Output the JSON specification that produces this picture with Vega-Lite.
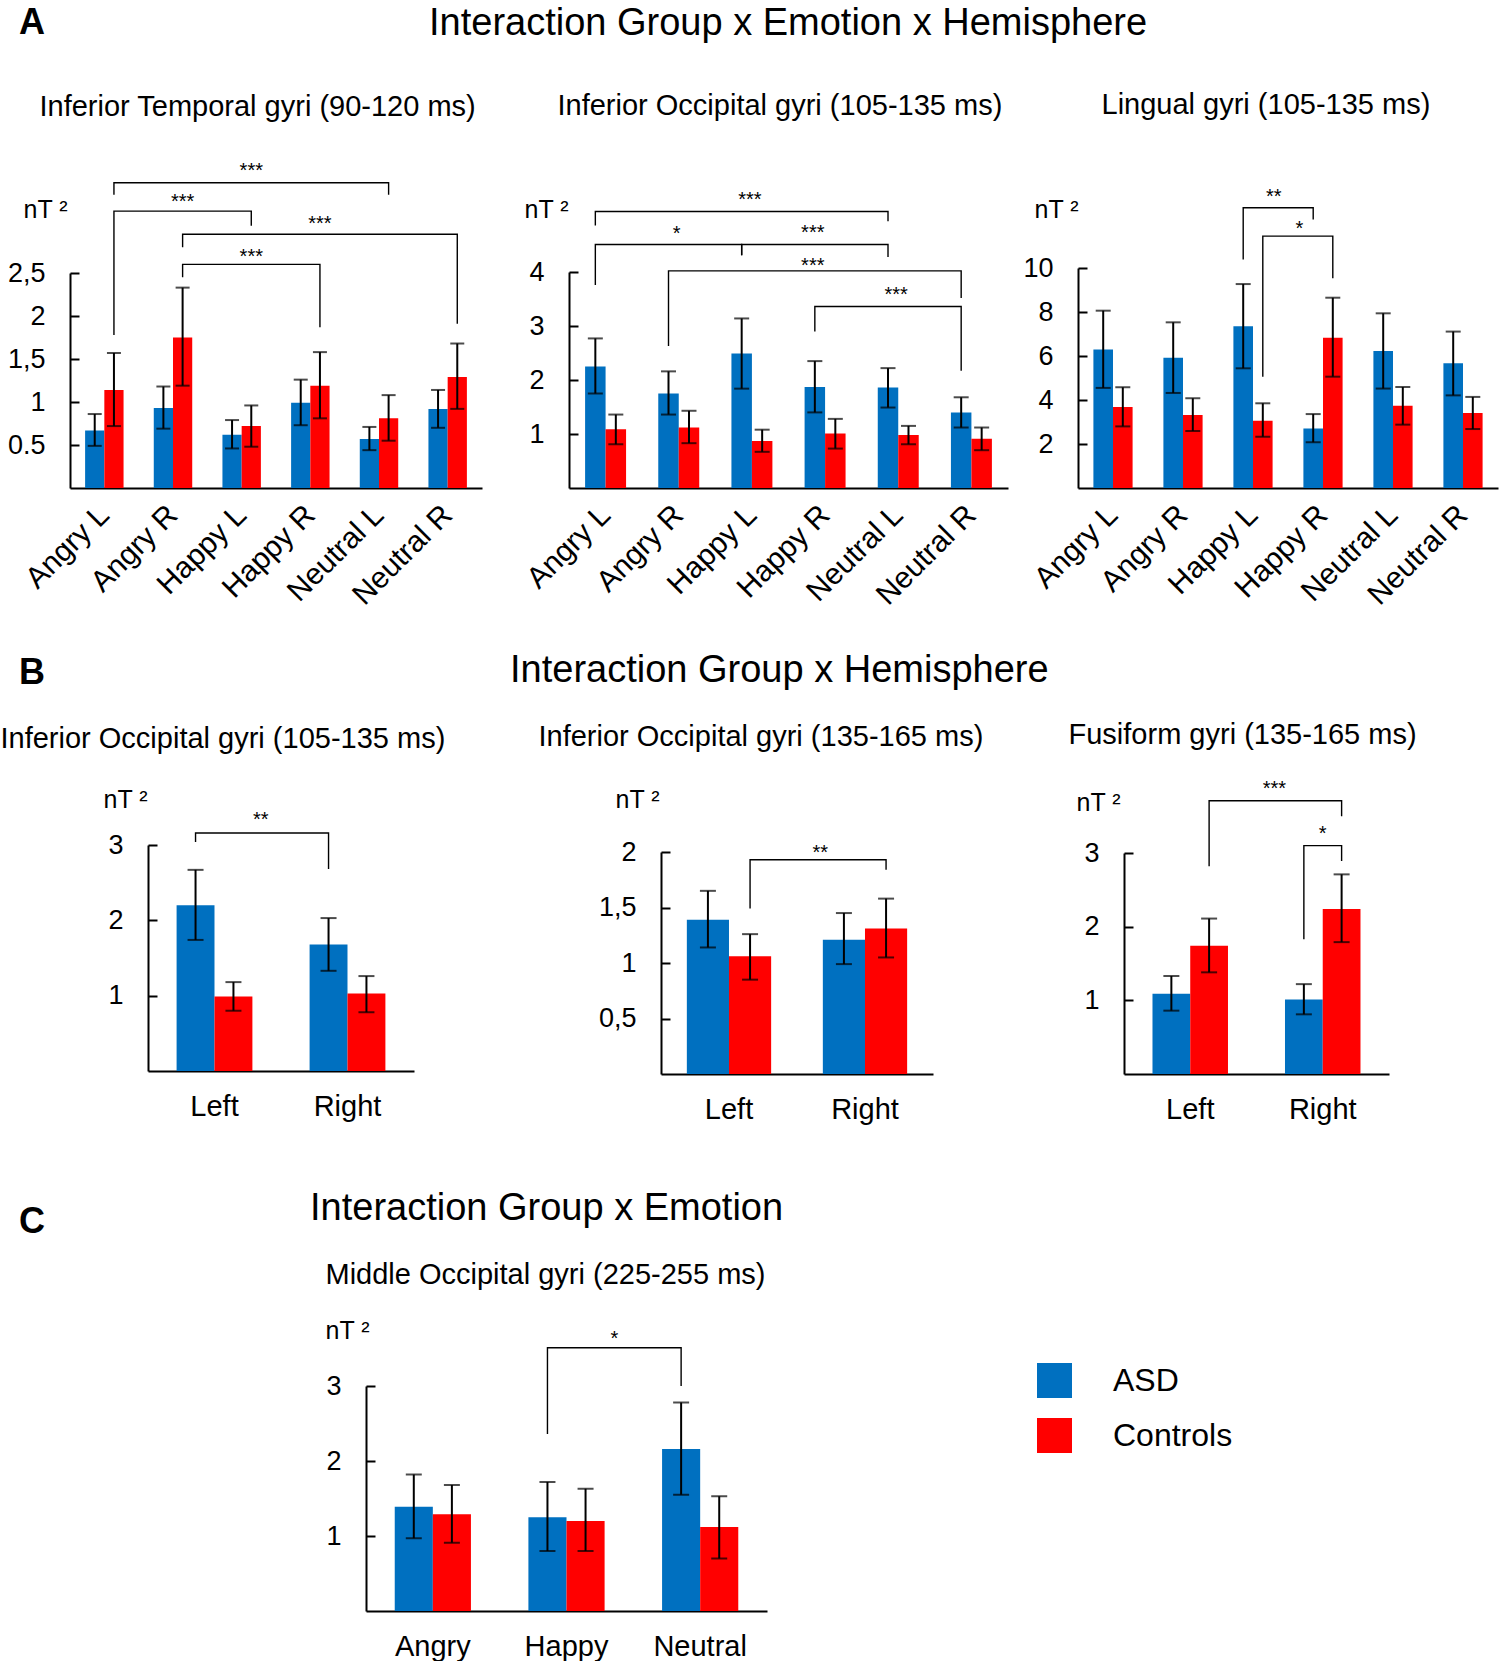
{
  "$schema": "https://vega.github.io/schema/vega-lite/v6.json",
  "padding": {"top": 5, "left": 0, "right": 0, "bottom": 0},
  "background": "white",
  "config": {
    "font": "Liberation Sans",
    "view": {"stroke": null},
    "axis": {"grid": false, "labelColor": "black", "titleColor": "black", "domainColor": "black", "tickColor": "black", "domainWidth": 2, "tickWidth": 2, "labelFontSize": 27, "titleFontSize": 25, "titleFontWeight": "normal", "labelFont": "Liberation Sans", "titleFont": "Liberation Sans"},
    "axisX": {"ticks": false, "titleFontSize": 29, "titleAlign": "left", "titleBaseline": "alphabetic", "titleAngle": 0},
    "axisY": {"tickSize": -9, "labelPadding": 34, "titleAngle": 0, "titleAlign": "left", "titleBaseline": "alphabetic"},
    "title": {"color": "black", "font": "Liberation Sans", "fontWeight": "normal"}
  },
  "datasets": {
    "a1": [
      {"g": "Angry L", "s": "ASD", "v": 0.67, "lo": 0.49, "hi": 0.86},
      {"g": "Angry L", "s": "Controls", "v": 1.14, "lo": 0.72, "hi": 1.57},
      {"g": "Angry R", "s": "ASD", "v": 0.93, "lo": 0.69, "hi": 1.18},
      {"g": "Angry R", "s": "Controls", "v": 1.75, "lo": 1.19, "hi": 2.33},
      {"g": "Happy L", "s": "ASD", "v": 0.62, "lo": 0.46, "hi": 0.79},
      {"g": "Happy L", "s": "Controls", "v": 0.72, "lo": 0.48, "hi": 0.96},
      {"g": "Happy R", "s": "ASD", "v": 0.99, "lo": 0.73, "hi": 1.26},
      {"g": "Happy R", "s": "Controls", "v": 1.19, "lo": 0.81, "hi": 1.58},
      {"g": "Neutral L", "s": "ASD", "v": 0.57, "lo": 0.44, "hi": 0.71},
      {"g": "Neutral L", "s": "Controls", "v": 0.81, "lo": 0.55, "hi": 1.08},
      {"g": "Neutral R", "s": "ASD", "v": 0.92, "lo": 0.70, "hi": 1.14},
      {"g": "Neutral R", "s": "Controls", "v": 1.29, "lo": 0.92, "hi": 1.68}
    ],
    "a1b": [
      {"b": 1, "o": 1, "g": "Angry L", "s": "Controls", "y": 3.41},
      {"b": 1, "o": 2, "g": "Angry L", "s": "Controls", "y": 3.55},
      {"b": 1, "o": 3, "g": "Neutral L", "s": "Controls", "y": 3.55},
      {"b": 1, "o": 4, "g": "Neutral L", "s": "Controls", "y": 3.41},
      {"b": 2, "o": 1, "g": "Angry L", "s": "Controls", "y": 1.78},
      {"b": 2, "o": 2, "g": "Angry L", "s": "Controls", "y": 3.22},
      {"b": 2, "o": 3, "g": "Happy L", "s": "Controls", "y": 3.22},
      {"b": 2, "o": 4, "g": "Happy L", "s": "Controls", "y": 3.05},
      {"b": 3, "o": 1, "g": "Angry R", "s": "Controls", "y": 2.80},
      {"b": 3, "o": 2, "g": "Angry R", "s": "Controls", "y": 2.95},
      {"b": 3, "o": 3, "g": "Neutral R", "s": "Controls", "y": 2.95},
      {"b": 3, "o": 4, "g": "Neutral R", "s": "Controls", "y": 1.91},
      {"b": 4, "o": 1, "g": "Angry R", "s": "Controls", "y": 2.45},
      {"b": 4, "o": 2, "g": "Angry R", "s": "Controls", "y": 2.60},
      {"b": 4, "o": 3, "g": "Happy R", "s": "Controls", "y": 2.60},
      {"b": 4, "o": 4, "g": "Happy R", "s": "Controls", "y": 1.87}
    ],
    "a1t": [
      {"g": "Happy L", "y": 3.75, "t": "***"},
      {"g": "Angry R", "y": 3.38, "t": "***"},
      {"g": "Happy R", "y": 3.13, "t": "***"},
      {"g": "Happy L", "y": 2.74, "t": "***"}
    ],
    "a2": [
      {"g": "Angry L", "s": "ASD", "v": 2.25, "lo": 1.75, "hi": 2.77},
      {"g": "Angry L", "s": "Controls", "v": 1.09, "lo": 0.81, "hi": 1.36},
      {"g": "Angry R", "s": "ASD", "v": 1.75, "lo": 1.36, "hi": 2.16},
      {"g": "Angry R", "s": "Controls", "v": 1.12, "lo": 0.83, "hi": 1.43},
      {"g": "Happy L", "s": "ASD", "v": 2.49, "lo": 1.84, "hi": 3.14},
      {"g": "Happy L", "s": "Controls", "v": 0.87, "lo": 0.67, "hi": 1.08},
      {"g": "Happy R", "s": "ASD", "v": 1.87, "lo": 1.40, "hi": 2.35},
      {"g": "Happy R", "s": "Controls", "v": 1.01, "lo": 0.73, "hi": 1.28},
      {"g": "Neutral L", "s": "ASD", "v": 1.86, "lo": 1.49, "hi": 2.22},
      {"g": "Neutral L", "s": "Controls", "v": 0.98, "lo": 0.81, "hi": 1.15},
      {"g": "Neutral R", "s": "ASD", "v": 1.40, "lo": 1.12, "hi": 1.68},
      {"g": "Neutral R", "s": "Controls", "v": 0.91, "lo": 0.70, "hi": 1.12}
    ],
    "a2b": [
      {"b": 1, "o": 1, "g": "Angry L", "s": "ASD", "y": 4.86},
      {"b": 1, "o": 2, "g": "Angry L", "s": "ASD", "y": 5.12},
      {"b": 1, "o": 3, "g": "Neutral L", "s": "ASD", "y": 5.12},
      {"b": 1, "o": 4, "g": "Neutral L", "s": "ASD", "y": 4.94},
      {"b": 2, "o": 1, "g": "Angry L", "s": "ASD", "y": 3.76},
      {"b": 2, "o": 2, "g": "Angry L", "s": "ASD", "y": 4.51},
      {"b": 2, "o": 3, "g": "Happy L", "s": "ASD", "y": 4.51},
      {"b": 2, "o": 4, "g": "Happy L", "s": "ASD", "y": 4.31},
      {"b": 3, "o": 1, "g": "Happy L", "s": "ASD", "y": 4.31},
      {"b": 3, "o": 2, "g": "Happy L", "s": "ASD", "y": 4.51},
      {"b": 3, "o": 3, "g": "Neutral L", "s": "ASD", "y": 4.51},
      {"b": 3, "o": 4, "g": "Neutral L", "s": "ASD", "y": 4.28},
      {"b": 4, "o": 1, "g": "Angry R", "s": "ASD", "y": 2.63},
      {"b": 4, "o": 2, "g": "Angry R", "s": "ASD", "y": 4.02},
      {"b": 4, "o": 3, "g": "Neutral R", "s": "ASD", "y": 4.02},
      {"b": 4, "o": 4, "g": "Neutral R", "s": "ASD", "y": 3.52},
      {"b": 5, "o": 1, "g": "Happy R", "s": "ASD", "y": 2.90},
      {"b": 5, "o": 2, "g": "Happy R", "s": "ASD", "y": 3.36},
      {"b": 5, "o": 3, "g": "Neutral R", "s": "ASD", "y": 3.36},
      {"b": 5, "o": 4, "g": "Neutral R", "s": "ASD", "y": 2.17}
    ],
    "a2t1": [
      {"g": "Happy L", "y": 5.43, "t": "***"},
      {"g": "Angry R", "y": 4.80, "t": "*"},
      {"g": "Neutral L", "y": 3.67, "t": "***"}
    ],
    "a2t2": [
      {"g": "Happy R", "y": 4.81, "t": "***"},
      {"g": "Happy R", "y": 4.20, "t": "***"}
    ],
    "a3": [
      {"g": "Angry L", "s": "ASD", "v": 6.30, "lo": 4.55, "hi": 8.06},
      {"g": "Angry L", "s": "Controls", "v": 3.68, "lo": 2.80, "hi": 4.58},
      {"g": "Angry R", "s": "ASD", "v": 5.92, "lo": 4.32, "hi": 7.53},
      {"g": "Angry R", "s": "Controls", "v": 3.32, "lo": 2.59, "hi": 4.08},
      {"g": "Happy L", "s": "ASD", "v": 7.35, "lo": 5.44, "hi": 9.27},
      {"g": "Happy L", "s": "Controls", "v": 3.06, "lo": 2.33, "hi": 3.85},
      {"g": "Happy R", "s": "ASD", "v": 2.71, "lo": 2.08, "hi": 3.36},
      {"g": "Happy R", "s": "Controls", "v": 6.83, "lo": 5.06, "hi": 8.65},
      {"g": "Neutral L", "s": "ASD", "v": 6.23, "lo": 4.52, "hi": 7.94},
      {"g": "Neutral L", "s": "Controls", "v": 3.74, "lo": 2.88, "hi": 4.59},
      {"g": "Neutral R", "s": "ASD", "v": 5.67, "lo": 4.21, "hi": 7.11},
      {"g": "Neutral R", "s": "Controls", "v": 3.41, "lo": 2.68, "hi": 4.14}
    ],
    "a3b": [
      {"b": 1, "o": 1, "g": "Happy L", "s": "ASD", "y": 10.39},
      {"b": 1, "o": 2, "g": "Happy L", "s": "ASD", "y": 12.74},
      {"b": 1, "o": 3, "g": "Happy R", "s": "ASD", "y": 12.74},
      {"b": 1, "o": 4, "g": "Happy R", "s": "ASD", "y": 12.21},
      {"b": 2, "o": 1, "g": "Happy L", "s": "Controls", "y": 5.06},
      {"b": 2, "o": 2, "g": "Happy L", "s": "Controls", "y": 11.45},
      {"b": 2, "o": 3, "g": "Happy R", "s": "Controls", "y": 11.45},
      {"b": 2, "o": 4, "g": "Happy R", "s": "Controls", "y": 9.53}
    ],
    "a3t1": [{"g": "Happy L", "y": 13.47, "t": "**"}],
    "a3t2": [{"g": "Happy R", "y": 12.0, "t": "*"}],
    "b1": [
      {"g": "Left", "s": "ASD", "v": 2.20, "lo": 1.74, "hi": 2.67},
      {"g": "Left", "s": "Controls", "v": 0.99, "lo": 0.80, "hi": 1.18},
      {"g": "Right", "s": "ASD", "v": 1.68, "lo": 1.33, "hi": 2.03},
      {"g": "Right", "s": "Controls", "v": 1.03, "lo": 0.78, "hi": 1.26}
    ],
    "b1b": [
      {"b": 1, "o": 1, "g": "Left", "s": "ASD", "y": 3.04},
      {"b": 1, "o": 2, "g": "Left", "s": "ASD", "y": 3.16},
      {"b": 1, "o": 3, "g": "Right", "s": "ASD", "y": 3.16},
      {"b": 1, "o": 4, "g": "Right", "s": "ASD", "y": 2.68}
    ],
    "b1t": [{"g": "Left", "y": 3.40, "t": "**"}],
    "b2": [
      {"g": "Left", "s": "ASD", "v": 1.39, "lo": 1.14, "hi": 1.65},
      {"g": "Left", "s": "Controls", "v": 1.06, "lo": 0.85, "hi": 1.26},
      {"g": "Right", "s": "ASD", "v": 1.21, "lo": 0.99, "hi": 1.45},
      {"g": "Right", "s": "Controls", "v": 1.31, "lo": 1.05, "hi": 1.58}
    ],
    "b2b": [
      {"b": 1, "o": 1, "g": "Left", "s": "Controls", "y": 1.49},
      {"b": 1, "o": 2, "g": "Left", "s": "Controls", "y": 1.93},
      {"b": 1, "o": 3, "g": "Right", "s": "Controls", "y": 1.93},
      {"b": 1, "o": 4, "g": "Right", "s": "Controls", "y": 1.84}
    ],
    "b2t": [{"g": "Right", "y": 2.04, "t": "**"}],
    "b3": [
      {"g": "Left", "s": "ASD", "v": 1.09, "lo": 0.86, "hi": 1.33},
      {"g": "Left", "s": "Controls", "v": 1.74, "lo": 1.38, "hi": 2.11},
      {"g": "Right", "s": "ASD", "v": 1.01, "lo": 0.81, "hi": 1.22},
      {"g": "Right", "s": "Controls", "v": 2.24, "lo": 1.79, "hi": 2.71}
    ],
    "b3b": [
      {"b": 1, "o": 1, "g": "Left", "s": "Controls", "y": 2.82},
      {"b": 1, "o": 2, "g": "Left", "s": "Controls", "y": 3.71},
      {"b": 1, "o": 3, "g": "Right", "s": "Controls", "y": 3.71},
      {"b": 1, "o": 4, "g": "Right", "s": "Controls", "y": 3.50},
      {"b": 2, "o": 1, "g": "Right", "s": "ASD", "y": 1.83},
      {"b": 2, "o": 2, "g": "Right", "s": "ASD", "y": 3.10},
      {"b": 2, "o": 3, "g": "Right", "s": "Controls", "y": 3.10},
      {"b": 2, "o": 4, "g": "Right", "s": "Controls", "y": 2.89}
    ],
    "b3t1": [{"g": "Right", "y": 3.94, "t": "***"}],
    "b3t2": [{"g": "Right", "y": 3.33, "t": "*"}],
    "c": [
      {"g": "Angry", "s": "ASD", "v": 1.39, "lo": 0.97, "hi": 1.82},
      {"g": "Angry", "s": "Controls", "v": 1.29, "lo": 0.91, "hi": 1.68},
      {"g": "Happy", "s": "ASD", "v": 1.25, "lo": 0.80, "hi": 1.72},
      {"g": "Happy", "s": "Controls", "v": 1.20, "lo": 0.80, "hi": 1.63},
      {"g": "Neutral", "s": "ASD", "v": 2.16, "lo": 1.55, "hi": 2.78},
      {"g": "Neutral", "s": "Controls", "v": 1.12, "lo": 0.70, "hi": 1.53}
    ],
    "cb": [
      {"b": 1, "o": 1, "g": "Happy", "s": "ASD", "y": 2.36},
      {"b": 1, "o": 2, "g": "Happy", "s": "ASD", "y": 3.51},
      {"b": 1, "o": 3, "g": "Neutral", "s": "ASD", "y": 3.51},
      {"b": 1, "o": 4, "g": "Neutral", "s": "ASD", "y": 3.0}
    ],
    "ct": [{"g": "Happy", "y": 3.70, "t": "*"}]
  },
  "resolve": {"scale": {"xOffset": "independent"}},
  "vconcat": [
    {
      "title": {"text": "Interaction Group x Emotion x Hemisphere", "anchor": "start", "frame": "group", "dx": 429, "offset": -38, "fontSize": 38},
      "spacing": 0,
      "bounds": "flush",
      "resolve": {"scale": {"xOffset": "independent"}},
      "hconcat": [
        {
          "width": 520, "height": 220,
          "title": {"text": "A", "anchor": "start", "frame": "group", "dx": 19, "offset": 50, "fontSize": 36, "fontWeight": "bold"},
          "layer": [
            {"data": {"name": "a1"}, "mark": {"type": "bar"},
             "encoding": {
               "x": {"field": "g", "type": "nominal", "scale": {"domain": ["Angry L", "Angry R", "Happy L", "Happy R", "Neutral L", "Neutral R"], "range": [70, 482], "paddingInner": 0.44, "paddingOuter": 0.22},
                     "axis": {"title": "Inferior Temporal gyri (90-120 ms)", "titleX": 39, "titleY": -373, "labelAngle": -45, "labelAlign": "right", "labelBaseline": "middle", "labelPadding": 22, "labelFontSize": 30}},
               "xOffset": {"field": "s", "type": "nominal", "scale": {"domain": ["ASD", "Controls"], "range": [0, 38.45], "paddingInner": 0, "paddingOuter": 0}},
               "y": {"field": "v", "type": "quantitative", "scale": {"domain": [0, 2.5], "range": [220, 5], "nice": false, "zero": true},
                     "axis": {"values": [0.5, 1, 1.5, 2, 2.5], "format": "~r", "labelExpr": "datum.value == 0.5 ? '0.5' : replace(datum.label, '.', ',')", "title": "nT ²", "titleX": -47, "titleY": -51, "offset": -70}},
               "color": {"field": "s", "type": "nominal", "scale": {"domain": ["ASD", "Controls"], "range": ["#0070C0", "#FF0000"]},
                         "legend": {"orient": "none", "legendX": 1037, "legendY": 1095, "title": null, "symbolType": "square", "symbolSize": 1225, "symbolStrokeWidth": 0, "symbolOpacity": 1, "labelFontSize": 32, "labelOffset": 41, "rowPadding": 20, "padding": 0, "labelColor": "black"}}
             }},
            {"data": {"name": "a1"}, "mark": {"type": "rule", "color": "black", "strokeWidth": 2},
             "encoding": {"x": {"field": "g", "type": "nominal"}, "xOffset": {"field": "s", "type": "nominal"}, "y": {"field": "lo", "type": "quantitative"}, "y2": {"field": "hi"}}},
            {"data": {"name": "a1"}, "mark": {"type": "tick", "color": "black", "thickness": 2, "size": 14},
             "encoding": {"x": {"field": "g", "type": "nominal"}, "xOffset": {"field": "s", "type": "nominal"}, "y": {"field": "lo", "type": "quantitative"}}},
            {"data": {"name": "a1"}, "mark": {"type": "tick", "color": "black", "thickness": 2, "size": 14},
             "encoding": {"x": {"field": "g", "type": "nominal"}, "xOffset": {"field": "s", "type": "nominal"}, "y": {"field": "hi", "type": "quantitative"}}},
            {"data": {"name": "a1b"}, "mark": {"type": "line", "color": "black", "strokeWidth": 1.4},
             "encoding": {"x": {"field": "g", "type": "nominal"}, "xOffset": {"field": "s", "type": "nominal"}, "y": {"field": "y", "type": "quantitative"}, "detail": {"field": "b", "type": "nominal"}, "order": {"field": "o", "type": "quantitative"}}},
            {"data": {"name": "a1t"}, "mark": {"type": "text", "fontSize": 20, "baseline": "middle", "dy": 5, "color": "black"},
             "encoding": {"x": {"field": "g", "type": "nominal", "bandPosition": 0.75}, "y": {"field": "y", "type": "quantitative"}, "text": {"field": "t", "type": "nominal"}}}
          ]
        },
        {
          "width": 510, "height": 220,
          "layer": [
            {"data": {"name": "a2"}, "mark": {"type": "bar"},
             "encoding": {
               "x": {"field": "g", "type": "nominal", "scale": {"domain": ["Angry L", "Angry R", "Happy L", "Happy R", "Neutral L", "Neutral R"], "range": [49, 488], "paddingInner": 0.44, "paddingOuter": 0.22},
                     "axis": {"title": "Inferior Occipital gyri (105-135 ms)", "titleX": 37, "titleY": -374, "labelAngle": -45, "labelAlign": "right", "labelBaseline": "middle", "labelPadding": 22, "labelFontSize": 30}},
               "xOffset": {"field": "s", "type": "nominal", "scale": {"domain": ["ASD", "Controls"], "range": [0, 40.97], "paddingInner": 0, "paddingOuter": 0}},
               "y": {"field": "v", "type": "quantitative", "scale": {"domain": [0, 4], "range": [220, 4], "nice": false, "zero": true},
                     "axis": {"values": [1, 2, 3, 4], "format": "~r", "title": "nT ²", "titleX": -45, "titleY": -51, "offset": -49}},
               "color": {"field": "s", "type": "nominal", "scale": {"domain": ["ASD", "Controls"], "range": ["#0070C0", "#FF0000"]},
                         "legend": {"orient": "none", "legendX": 1037, "legendY": 1095, "title": null, "symbolType": "square", "symbolSize": 1225, "symbolStrokeWidth": 0, "symbolOpacity": 1, "labelFontSize": 32, "labelOffset": 41, "rowPadding": 20, "padding": 0, "labelColor": "black"}}
             }},
            {"data": {"name": "a2"}, "mark": {"type": "rule", "color": "black", "strokeWidth": 2},
             "encoding": {"x": {"field": "g", "type": "nominal"}, "xOffset": {"field": "s", "type": "nominal"}, "y": {"field": "lo", "type": "quantitative"}, "y2": {"field": "hi"}}},
            {"data": {"name": "a2"}, "mark": {"type": "tick", "color": "black", "thickness": 2, "size": 15},
             "encoding": {"x": {"field": "g", "type": "nominal"}, "xOffset": {"field": "s", "type": "nominal"}, "y": {"field": "lo", "type": "quantitative"}}},
            {"data": {"name": "a2"}, "mark": {"type": "tick", "color": "black", "thickness": 2, "size": 15},
             "encoding": {"x": {"field": "g", "type": "nominal"}, "xOffset": {"field": "s", "type": "nominal"}, "y": {"field": "hi", "type": "quantitative"}}},
            {"data": {"name": "a2b"}, "mark": {"type": "line", "color": "black", "strokeWidth": 1.4},
             "encoding": {"x": {"field": "g", "type": "nominal"}, "xOffset": {"field": "s", "type": "nominal"}, "y": {"field": "y", "type": "quantitative"}, "detail": {"field": "b", "type": "nominal"}, "order": {"field": "o", "type": "quantitative"}}},
            {"data": {"name": "a2t1"}, "mark": {"type": "text", "fontSize": 20, "baseline": "middle", "dy": 5, "color": "black"},
             "encoding": {"x": {"field": "g", "type": "nominal", "bandPosition": 0.45}, "y": {"field": "y", "type": "quantitative"}, "text": {"field": "t", "type": "nominal"}}},
            {"data": {"name": "a2t2"}, "mark": {"type": "text", "fontSize": 20, "baseline": "middle", "dy": 5, "color": "black"},
             "encoding": {"x": {"field": "g", "type": "nominal", "bandPosition": 0.2}, "y": {"field": "y", "type": "quantitative"}, "text": {"field": "t", "type": "nominal"}}}
          ]
        },
        {
          "width": 470, "height": 220,
          "layer": [
            {"data": {"name": "a3"}, "mark": {"type": "bar"},
             "encoding": {
               "x": {"field": "g", "type": "nominal", "scale": {"domain": ["Angry L", "Angry R", "Happy L", "Happy R", "Neutral L", "Neutral R"], "range": [48, 468], "paddingInner": 0.44, "paddingOuter": 0.22},
                     "axis": {"title": "Lingual gyri (105-135 ms)", "titleX": 71, "titleY": -375, "labelAngle": -45, "labelAlign": "right", "labelBaseline": "middle", "labelPadding": 22, "labelFontSize": 30}},
               "xOffset": {"field": "s", "type": "nominal", "scale": {"domain": ["ASD", "Controls"], "range": [0, 39.2], "paddingInner": 0, "paddingOuter": 0}},
               "y": {"field": "v", "type": "quantitative", "scale": {"domain": [0, 10], "range": [220, 0], "nice": false, "zero": true},
                     "axis": {"values": [2, 4, 6, 8, 10], "format": "~r", "title": "nT ²", "titleX": -44, "titleY": -51, "offset": -48}},
               "color": {"field": "s", "type": "nominal", "scale": {"domain": ["ASD", "Controls"], "range": ["#0070C0", "#FF0000"]},
                         "legend": {"orient": "none", "legendX": 1037, "legendY": 1095, "title": null, "symbolType": "square", "symbolSize": 1225, "symbolStrokeWidth": 0, "symbolOpacity": 1, "labelFontSize": 32, "labelOffset": 41, "rowPadding": 20, "padding": 0, "labelColor": "black"}}
             }},
            {"data": {"name": "a3"}, "mark": {"type": "rule", "color": "black", "strokeWidth": 2},
             "encoding": {"x": {"field": "g", "type": "nominal"}, "xOffset": {"field": "s", "type": "nominal"}, "y": {"field": "lo", "type": "quantitative"}, "y2": {"field": "hi"}}},
            {"data": {"name": "a3"}, "mark": {"type": "tick", "color": "black", "thickness": 2, "size": 15},
             "encoding": {"x": {"field": "g", "type": "nominal"}, "xOffset": {"field": "s", "type": "nominal"}, "y": {"field": "lo", "type": "quantitative"}}},
            {"data": {"name": "a3"}, "mark": {"type": "tick", "color": "black", "thickness": 2, "size": 15},
             "encoding": {"x": {"field": "g", "type": "nominal"}, "xOffset": {"field": "s", "type": "nominal"}, "y": {"field": "hi", "type": "quantitative"}}},
            {"data": {"name": "a3b"}, "mark": {"type": "line", "color": "black", "strokeWidth": 1.4},
             "encoding": {"x": {"field": "g", "type": "nominal"}, "xOffset": {"field": "s", "type": "nominal"}, "y": {"field": "y", "type": "quantitative"}, "detail": {"field": "b", "type": "nominal"}, "order": {"field": "o", "type": "quantitative"}}},
            {"data": {"name": "a3t1"}, "mark": {"type": "text", "fontSize": 20, "baseline": "middle", "dy": 5, "color": "black"},
             "encoding": {"x": {"field": "g", "type": "nominal", "bandPosition": 1.03}, "y": {"field": "y", "type": "quantitative"}, "text": {"field": "t", "type": "nominal"}}},
            {"data": {"name": "a3t2"}, "mark": {"type": "text", "fontSize": 20, "baseline": "middle", "dy": 5, "color": "black"},
             "encoding": {"x": {"field": "g", "type": "nominal", "bandPosition": -0.1}, "y": {"field": "y", "type": "quantitative"}, "text": {"field": "t", "type": "nominal"}}}
          ]
        }
      ]
    },
    {
      "title": {"text": "Interaction Group x Hemisphere", "anchor": "start", "frame": "group", "dx": 510, "offset": -35, "fontSize": 38},
      "spacing": 0,
      "bounds": "flush",
      "resolve": {"scale": {"xOffset": "independent"}},
      "hconcat": [
        {
          "width": 600, "height": 244,
          "title": {"text": "B", "anchor": "start", "frame": "group", "dx": 19, "offset": 32, "fontSize": 36, "fontWeight": "bold"},
          "layer": [
            {"data": {"name": "b1"}, "mark": {"type": "bar"},
             "encoding": {
               "x": {"field": "g", "type": "nominal", "scale": {"domain": ["Left", "Right"], "range": [148, 414], "paddingInner": 0.43, "paddingOuter": 0.215},
                     "axis": {"title": "Inferior Occipital gyri (105-135 ms)", "titleX": 0, "titleY": -324, "labelAngle": 0, "labelAlign": "center", "labelBaseline": "top", "labelPadding": 21, "labelFontSize": 29}},
               "xOffset": {"field": "s", "type": "nominal", "scale": {"domain": ["ASD", "Controls"], "range": [0, 75.8], "paddingInner": 0, "paddingOuter": 0}},
               "y": {"field": "v", "type": "quantitative", "scale": {"domain": [0, 3], "range": [244, 18], "nice": false, "zero": true},
                     "axis": {"values": [1, 2, 3], "format": "~r", "title": "nT ²", "titleX": -45, "titleY": -20, "offset": -148}},
               "color": {"field": "s", "type": "nominal", "scale": {"domain": ["ASD", "Controls"], "range": ["#0070C0", "#FF0000"]},
                         "legend": {"orient": "none", "legendX": 1037, "legendY": 1095, "title": null, "symbolType": "square", "symbolSize": 1225, "symbolStrokeWidth": 0, "symbolOpacity": 1, "labelFontSize": 32, "labelOffset": 41, "rowPadding": 20, "padding": 0, "labelColor": "black"}}
             }},
            {"data": {"name": "b1"}, "mark": {"type": "rule", "color": "black", "strokeWidth": 2},
             "encoding": {"x": {"field": "g", "type": "nominal"}, "xOffset": {"field": "s", "type": "nominal"}, "y": {"field": "lo", "type": "quantitative"}, "y2": {"field": "hi"}}},
            {"data": {"name": "b1"}, "mark": {"type": "tick", "color": "black", "thickness": 2, "size": 16},
             "encoding": {"x": {"field": "g", "type": "nominal"}, "xOffset": {"field": "s", "type": "nominal"}, "y": {"field": "lo", "type": "quantitative"}}},
            {"data": {"name": "b1"}, "mark": {"type": "tick", "color": "black", "thickness": 2, "size": 16},
             "encoding": {"x": {"field": "g", "type": "nominal"}, "xOffset": {"field": "s", "type": "nominal"}, "y": {"field": "hi", "type": "quantitative"}}},
            {"data": {"name": "b1b"}, "mark": {"type": "line", "color": "black", "strokeWidth": 1.4},
             "encoding": {"x": {"field": "g", "type": "nominal"}, "xOffset": {"field": "s", "type": "nominal"}, "y": {"field": "y", "type": "quantitative"}, "detail": {"field": "b", "type": "nominal"}, "order": {"field": "o", "type": "quantitative"}}},
            {"data": {"name": "b1t"}, "mark": {"type": "text", "fontSize": 20, "baseline": "middle", "dy": 5, "color": "black"},
             "encoding": {"x": {"field": "g", "type": "nominal", "bandPosition": 1.11}, "y": {"field": "y", "type": "quantitative"}, "text": {"field": "t", "type": "nominal"}}}
          ]
        },
        {
          "width": 470, "height": 247,
          "layer": [
            {"data": {"name": "b2"}, "mark": {"type": "bar"},
             "encoding": {
               "x": {"field": "g", "type": "nominal", "scale": {"domain": ["Left", "Right"], "range": [61, 333], "paddingInner": 0.38, "paddingOuter": 0.19},
                     "axis": {"title": "Inferior Occipital gyri (135-165 ms)", "titleX": -62, "titleY": -329, "labelAngle": 0, "labelAlign": "center", "labelBaseline": "top", "labelPadding": 21, "labelFontSize": 29}},
               "xOffset": {"field": "s", "type": "nominal", "scale": {"domain": ["ASD", "Controls"], "range": [0, 84.3], "paddingInner": 0, "paddingOuter": 0}},
               "y": {"field": "v", "type": "quantitative", "scale": {"domain": [0, 2], "range": [247, 25], "nice": false, "zero": true},
                     "axis": {"values": [0.5, 1, 1.5, 2], "format": "~r", "labelExpr": "replace(datum.label, '.', ',')", "title": "nT ²", "titleX": -46, "titleY": -20, "offset": -61}},
               "color": {"field": "s", "type": "nominal", "scale": {"domain": ["ASD", "Controls"], "range": ["#0070C0", "#FF0000"]},
                         "legend": {"orient": "none", "legendX": 1037, "legendY": 1095, "title": null, "symbolType": "square", "symbolSize": 1225, "symbolStrokeWidth": 0, "symbolOpacity": 1, "labelFontSize": 32, "labelOffset": 41, "rowPadding": 20, "padding": 0, "labelColor": "black"}}
             }},
            {"data": {"name": "b2"}, "mark": {"type": "rule", "color": "black", "strokeWidth": 2},
             "encoding": {"x": {"field": "g", "type": "nominal"}, "xOffset": {"field": "s", "type": "nominal"}, "y": {"field": "lo", "type": "quantitative"}, "y2": {"field": "hi"}}},
            {"data": {"name": "b2"}, "mark": {"type": "tick", "color": "black", "thickness": 2, "size": 16},
             "encoding": {"x": {"field": "g", "type": "nominal"}, "xOffset": {"field": "s", "type": "nominal"}, "y": {"field": "lo", "type": "quantitative"}}},
            {"data": {"name": "b2"}, "mark": {"type": "tick", "color": "black", "thickness": 2, "size": 16},
             "encoding": {"x": {"field": "g", "type": "nominal"}, "xOffset": {"field": "s", "type": "nominal"}, "y": {"field": "hi", "type": "quantitative"}}},
            {"data": {"name": "b2b"}, "mark": {"type": "line", "color": "black", "strokeWidth": 1.4},
             "encoding": {"x": {"field": "g", "type": "nominal"}, "xOffset": {"field": "s", "type": "nominal"}, "y": {"field": "y", "type": "quantitative"}, "detail": {"field": "b", "type": "nominal"}, "order": {"field": "o", "type": "quantitative"}}},
            {"data": {"name": "b2t"}, "mark": {"type": "text", "fontSize": 20, "baseline": "middle", "dy": 5, "color": "black"},
             "encoding": {"x": {"field": "g", "type": "nominal", "bandPosition": -0.03}, "y": {"field": "y", "type": "quantitative"}, "text": {"field": "t", "type": "nominal"}}}
          ]
        },
        {
          "width": 430, "height": 247,
          "layer": [
            {"data": {"name": "b3"}, "mark": {"type": "bar"},
             "encoding": {
               "x": {"field": "g", "type": "nominal", "scale": {"domain": ["Left", "Right"], "range": [54, 319], "paddingInner": 0.43, "paddingOuter": 0.215},
                     "axis": {"title": "Fusiform gyri (135-165 ms)", "titleX": -2, "titleY": -331, "labelAngle": 0, "labelAlign": "center", "labelBaseline": "top", "labelPadding": 21, "labelFontSize": 29}},
               "xOffset": {"field": "s", "type": "nominal", "scale": {"domain": ["ASD", "Controls"], "range": [0, 75.5], "paddingInner": 0, "paddingOuter": 0}},
               "y": {"field": "v", "type": "quantitative", "scale": {"domain": [0, 3], "range": [247, 26], "nice": false, "zero": true},
                     "axis": {"values": [1, 2, 3], "format": "~r", "title": "nT ²", "titleX": -48, "titleY": -17, "offset": -54}},
               "color": {"field": "s", "type": "nominal", "scale": {"domain": ["ASD", "Controls"], "range": ["#0070C0", "#FF0000"]},
                         "legend": {"orient": "none", "legendX": 1037, "legendY": 1095, "title": null, "symbolType": "square", "symbolSize": 1225, "symbolStrokeWidth": 0, "symbolOpacity": 1, "labelFontSize": 32, "labelOffset": 41, "rowPadding": 20, "padding": 0, "labelColor": "black"}}
             }},
            {"data": {"name": "b3"}, "mark": {"type": "rule", "color": "black", "strokeWidth": 2},
             "encoding": {"x": {"field": "g", "type": "nominal"}, "xOffset": {"field": "s", "type": "nominal"}, "y": {"field": "lo", "type": "quantitative"}, "y2": {"field": "hi"}}},
            {"data": {"name": "b3"}, "mark": {"type": "tick", "color": "black", "thickness": 2, "size": 16},
             "encoding": {"x": {"field": "g", "type": "nominal"}, "xOffset": {"field": "s", "type": "nominal"}, "y": {"field": "lo", "type": "quantitative"}}},
            {"data": {"name": "b3"}, "mark": {"type": "tick", "color": "black", "thickness": 2, "size": 16},
             "encoding": {"x": {"field": "g", "type": "nominal"}, "xOffset": {"field": "s", "type": "nominal"}, "y": {"field": "hi", "type": "quantitative"}}},
            {"data": {"name": "b3b"}, "mark": {"type": "line", "color": "black", "strokeWidth": 1.4},
             "encoding": {"x": {"field": "g", "type": "nominal"}, "xOffset": {"field": "s", "type": "nominal"}, "y": {"field": "y", "type": "quantitative"}, "detail": {"field": "b", "type": "nominal"}, "order": {"field": "o", "type": "quantitative"}}},
            {"data": {"name": "b3t1"}, "mark": {"type": "text", "fontSize": 20, "baseline": "middle", "dy": 5, "color": "black"},
             "encoding": {"x": {"field": "g", "type": "nominal", "bandPosition": -0.14}, "y": {"field": "y", "type": "quantitative"}, "text": {"field": "t", "type": "nominal"}}},
            {"data": {"name": "b3t2"}, "mark": {"type": "text", "fontSize": 20, "baseline": "middle", "dy": 5, "color": "black"},
             "encoding": {"x": {"field": "g", "type": "nominal", "bandPosition": 0.5}, "y": {"field": "y", "type": "quantitative"}, "text": {"field": "t", "type": "nominal"}}}
          ]
        }
      ]
    },
    {
      "title": {"text": "Interaction Group x Emotion", "anchor": "start", "frame": "group", "dx": 310, "offset": -24, "fontSize": 38},
      "spacing": 0,
      "bounds": "flush",
      "resolve": {"scale": {"xOffset": "independent"}},
      "hconcat": [
        {
          "width": 800, "height": 225,
          "title": {"text": "C", "anchor": "start", "frame": "group", "dx": 19, "offset": 19, "fontSize": 36, "fontWeight": "bold"},
          "layer": [
            {"data": {"name": "c"}, "mark": {"type": "bar"},
             "encoding": {
               "x": {"field": "g", "type": "nominal", "scale": {"domain": ["Angry", "Happy", "Neutral"], "range": [366, 767], "paddingInner": 0.43, "paddingOuter": 0.215},
                     "axis": {"title": "Middle Occipital gyri (225-255 ms)", "titleX": 325, "titleY": -328, "labelAngle": 0, "labelAlign": "center", "labelBaseline": "top", "labelPadding": 21, "labelFontSize": 29}},
               "xOffset": {"field": "s", "type": "nominal", "scale": {"domain": ["ASD", "Controls"], "range": [0, 76.2], "paddingInner": 0, "paddingOuter": 0}},
               "y": {"field": "v", "type": "quantitative", "scale": {"domain": [0, 3], "range": [225, 0], "nice": false, "zero": true},
                     "axis": {"values": [1, 2, 3], "format": "~r", "title": "nT ²", "titleX": -41, "titleY": -48, "offset": -366}},
               "color": {"field": "s", "type": "nominal", "scale": {"domain": ["ASD", "Controls"], "range": ["#0070C0", "#FF0000"]},
                         "legend": {"orient": "none", "legendX": 1037, "legendY": 1095, "title": null, "symbolType": "square", "symbolSize": 1225, "symbolStrokeWidth": 0, "symbolOpacity": 1, "labelFontSize": 32, "labelOffset": 41, "rowPadding": 20, "padding": 0, "labelColor": "black"}}
             }},
            {"data": {"name": "c"}, "mark": {"type": "rule", "color": "black", "strokeWidth": 2},
             "encoding": {"x": {"field": "g", "type": "nominal"}, "xOffset": {"field": "s", "type": "nominal"}, "y": {"field": "lo", "type": "quantitative"}, "y2": {"field": "hi"}}},
            {"data": {"name": "c"}, "mark": {"type": "tick", "color": "black", "thickness": 2, "size": 16},
             "encoding": {"x": {"field": "g", "type": "nominal"}, "xOffset": {"field": "s", "type": "nominal"}, "y": {"field": "lo", "type": "quantitative"}}},
            {"data": {"name": "c"}, "mark": {"type": "tick", "color": "black", "thickness": 2, "size": 16},
             "encoding": {"x": {"field": "g", "type": "nominal"}, "xOffset": {"field": "s", "type": "nominal"}, "y": {"field": "hi", "type": "quantitative"}}},
            {"data": {"name": "cb"}, "mark": {"type": "line", "color": "black", "strokeWidth": 1.4},
             "encoding": {"x": {"field": "g", "type": "nominal"}, "xOffset": {"field": "s", "type": "nominal"}, "y": {"field": "y", "type": "quantitative"}, "detail": {"field": "b", "type": "nominal"}, "order": {"field": "o", "type": "quantitative"}}},
            {"data": {"name": "ct"}, "mark": {"type": "text", "fontSize": 20, "baseline": "middle", "dy": 5, "color": "black"},
             "encoding": {"x": {"field": "g", "type": "nominal", "bandPosition": 1.13}, "y": {"field": "y", "type": "quantitative"}, "text": {"field": "t", "type": "nominal"}}}
          ]
        }
      ]
    }
  ],
  "spacing": 559,
  "bounds": "flush"
}
